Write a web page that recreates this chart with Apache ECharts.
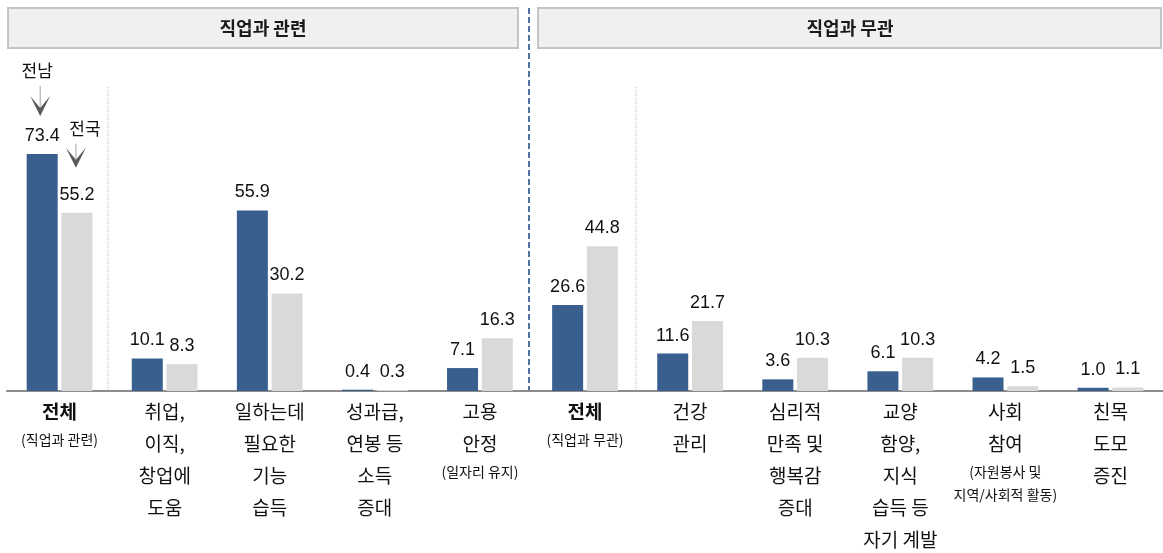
<!DOCTYPE html>
<html>
<head>
<meta charset="utf-8">
<script src="https://cdn.jsdelivr.net/npm/echarts@6/dist/echarts.min.js"></script>
<style>
  html, body { margin: 0; padding: 0; background: #fff; }
  #main { width: 1163px; height: 553px; }
</style>
</head>
<body>
<div id="main"></div>
<script>
// 항목 (줄바꿈 포함), 괄호 설명
var categories = [
  "전체", "취업,\n이직,\n창업에\n도움", "일하는데\n필요한\n기능\n습득", "성과급,\n연봉 등\n소득\n증대", "고용\n안정",
  "전체", "건강\n관리", "심리적\n만족 및\n행복감\n증대", "교양\n함양,\n지식\n습득 등\n자기 계발", "사회\n참여", "친목\n도모\n증진"
];
var notes = [
  "(직업과 관련)", "", "", "", "(일자리 유지)",
  "(직업과 무관)", "", "", "", "(자원봉사 및\n지역/사회적 활동)", ""
];
var jeonnam = [73.4, 10.1, 55.9, 0.4, 7.1, 26.6, 11.6, 3.6, 6.1, 4.2, 1.0];
var jeonguk = [55.2, 8.3, 30.2, 0.3, 16.3, 44.8, 21.7, 10.3, 10.3, 1.5, 1.1];
var groupTitles = ["직업과 관련", "직업과 무관"];
var seriesNames = ["전남", "전국"];

var BLUE = "#395f8f";
var GRAY = "#d9d9d9";
var FONT = "'Noto Sans CJK KR', 'Noto Sans', sans-serif";
var NUMFONT = "'Liberation Sans', Arial, sans-serif";

var axisNames = categories.map(function (c, i) { return c + "|" + notes[i]; });

var chart = echarts.init(document.getElementById("main"));

var valueLabel = {
  show: true,
  position: "top",
  distance: 9,
  fontFamily: NUMFONT,
  fontSize: 18,
  color: "#111",
  formatter: function (p) { return p.value.toFixed(1); }
};

chart.setOption({
  animation: false,
  grid: { left: 7, right: 0, top: 68, bottom: 162 },
  xAxis: {
    type: "category",
    data: axisNames,
    axisTick: { show: false },
    axisLine: { lineStyle: { color: "#8c8c8c", width: 2 } },
    axisLabel: {
      interval: 0,
      margin: 5,
      fontFamily: FONT,
      formatter: function (v, i) {
        var main = categories[i].split("\n").map(function (t) {
          return (i === 0 || i === 5) ? "{b|" + t + "}" : "{m|" + t + "}";
        });
        var sub = notes[i] ? notes[i].split("\n").map(function (t) { return "{s|" + t + "}"; }) : [];
        return main.concat(sub).join("\n");
      },
      rich: {
        m: { fontFamily: FONT, fontSize: 19, lineHeight: 32, color: "#111" },
        b: { fontFamily: FONT, fontSize: 19, lineHeight: 32, color: "#111", fontWeight: "bold" },
        s: { fontFamily: FONT, fontSize: 14, lineHeight: 23, color: "#111" }
      }
    }
  },
  yAxis: { type: "value", min: 0, max: 100, show: false, splitLine: { show: false } },
  series: [
    {
      name: seriesNames[0], type: "bar", data: jeonnam,
      barWidth: 31, barGap: "12%",
      itemStyle: { color: BLUE },
      label: valueLabel
    },
    {
      name: seriesNames[1], type: "bar", data: jeonguk,
      barWidth: 31,
      itemStyle: { color: GRAY },
      label: valueLabel
    }
  ]
});

// 구분선, 그룹 제목, 화살표 주석
function px(idx, val) { return chart.convertToPixel({ xAxisIndex: 0, yAxisIndex: 0 }, [idx, val]); }
var base = px(0, 0)[1];
var c = categories.map(function (_, i) { return px(i, 0)[0]; });
var dashX = Math.round((c[4] + c[5]) / 2) - 3;
var dot1 = Math.round((c[0] + c[1]) / 2) - 4;
var dot2 = Math.round((c[5] + c[6]) / 2) - 2;
var half = (31 + 3.7) / 2;

function arrow(x, topY, label, textY, textDx) {
  return [
    { type: "text", style: { x: x + textDx, y: textY, text: label, fontFamily: FONT, fontSize: 17, fill: "#111", align: "center", verticalAlign: "middle" } },
    { type: "line", shape: { x1: x, y1: textY + 15, x2: x, y2: topY + 12 }, style: { stroke: "#a6a6a6", lineWidth: 1 } },
    { type: "polygon", shape: { points: [[x - 10, topY], [x, topY + 20], [x + 10, topY], [x, topY + 12]] }, style: { fill: "#595959" } }
  ];
}

var blueTop = px(0, jeonnam[0])[1];
var grayTop = px(0, jeonguk[0])[1];
var blueX = c[0] - half;
var grayX = c[0] + half;

var titleStyle = { fontFamily: FONT, fontSize: 18, fontWeight: "bold", fill: "#1a1a1a", align: "center", verticalAlign: "middle" };

var elements = [
  { type: "rect", shape: { x: 8, y: 8, width: dashX - 19, height: 40 }, style: { fill: "#f0f0f0", stroke: "#c4c4c4", lineWidth: 2 } },
  { type: "rect", shape: { x: dashX + 9, y: 8, width: 1162 - dashX - 10, height: 40 }, style: { fill: "#f0f0f0", stroke: "#c4c4c4", lineWidth: 2 } },
  { type: "text", style: Object.assign({ x: (8 + dashX - 11) / 2, y: 28, text: groupTitles[0] }, titleStyle) },
  { type: "text", style: Object.assign({ x: (dashX + 9 + 1162) / 2, y: 28, text: groupTitles[1] }, titleStyle) },
  { type: "line", shape: { x1: dashX, y1: 8, x2: dashX, y2: base }, style: { stroke: "#4f72a0", lineWidth: 2, lineDash: [6, 3] } },
  { type: "line", shape: { x1: dot1, y1: 87, x2: dot1, y2: base }, style: { stroke: "#bdbdbd", lineWidth: 1, lineDash: [1, 1] } },
  { type: "line", shape: { x1: dot2, y1: 87, x2: dot2, y2: base }, style: { stroke: "#bdbdbd", lineWidth: 1, lineDash: [1, 1] } }
];
elements = elements
  .concat(arrow(blueX - 2, blueTop - 58, seriesNames[0], blueTop - 83, -3))
  .concat(arrow(grayX - 1, grayTop - 65, seriesNames[1], grayTop - 84, 9));

chart.setOption({ graphic: { elements: elements } });
</script>
</body>
</html>
